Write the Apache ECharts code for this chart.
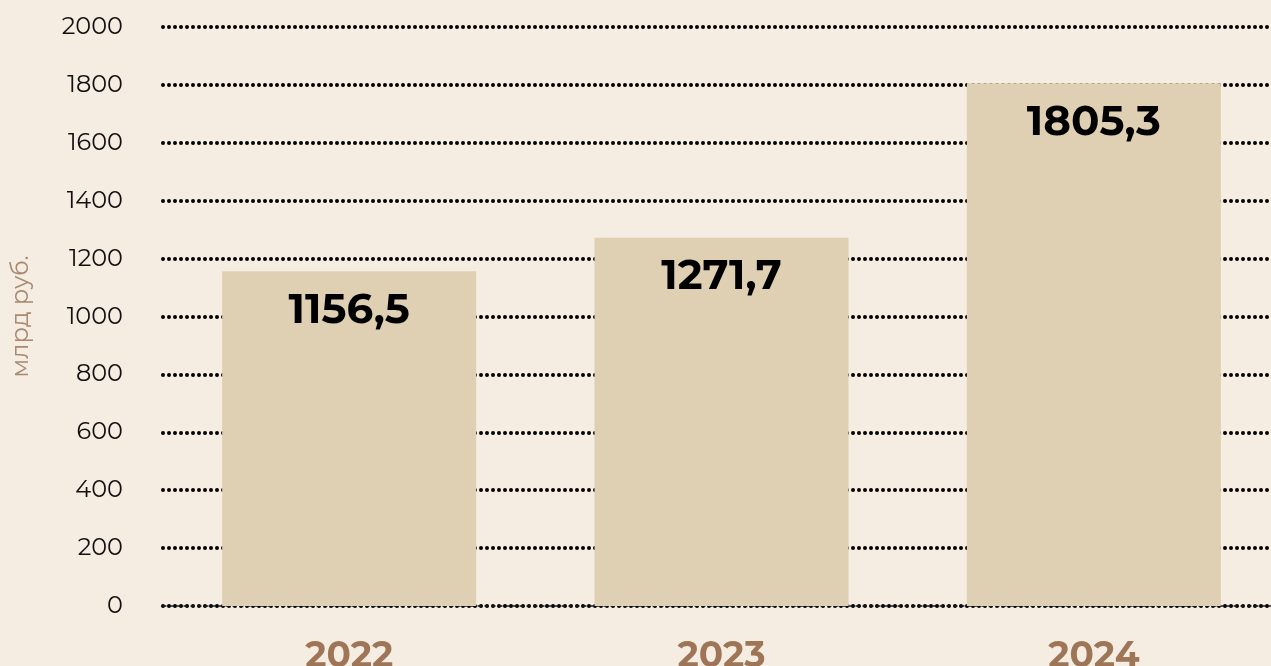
<!DOCTYPE html>
<html>
<head>
<meta charset="utf-8">
<script src="https://cdn.jsdelivr.net/npm/echarts@6/dist/echarts.min.js"></script>
<style>
  html, body { margin: 0; padding: 0; background: #f5ece2; }
  #chart { width: 1271px; height: 666px; }
</style>
</head>
<body>
<div id="chart"></div>
<script>
// годы и значения (млрд руб.)
const years = ['2022', '2023', '2024']
const values = [1156.5, 1271.7, 1805.3]

const chart = echarts.init(document.getElementById('chart'))

const fontFamily = 'Montserrat, Inter, "Open Sans", sans-serif'

chart.setOption({
  backgroundColor: '#f5ece2',
  animation: false,
  grid: { left: 163, right: -9, top: 27, bottom: 60, outerBoundsMode: 'none' },
  xAxis: {
    type: 'category',
    data: years,
    axisTick: { show: false },
    axisLine: {
      show: true,
      lineStyle: { color: '#1a1a1a', width: 1.5, type: [3, 4] }
    },
    axisLabel: {
      margin: 32,
      color: '#9e7657',
      fontSize: 36,
      fontWeight: 'bold',
      fontFamily
    }
  },
  yAxis: {
    type: 'value',
    min: 0,
    max: 2000,
    interval: 200,
    name: 'млрд руб.',
    nameLocation: 'middle',
    nameGap: 130,
    nameTextStyle: { color: '#a98a70', fontSize: 24, fontFamily },
    axisLabel: {
      margin: 40,
      color: '#111',
      fontSize: 24,
      fontFamily,
      formatter: v => String(v) // без разделителя тысяч
    },
    splitLine: {
      lineStyle: { color: '#000', width: 4, type: [0, 6], cap: 'round' }
    }
  },
  series: [
    {
      type: 'bar',
      data: values,
      barWidth: 254,
      itemStyle: { color: '#e0d0b3' },
      label: {
        show: true,
        position: 'insideTop',
        distance: 18,
        color: '#000',
        fontSize: 42,
        fontWeight: 'bold',
        fontFamily,
        formatter: p => String(p.value).replace('.', ',')
      }
    }
  ]
})
</script>
</body>
</html>
